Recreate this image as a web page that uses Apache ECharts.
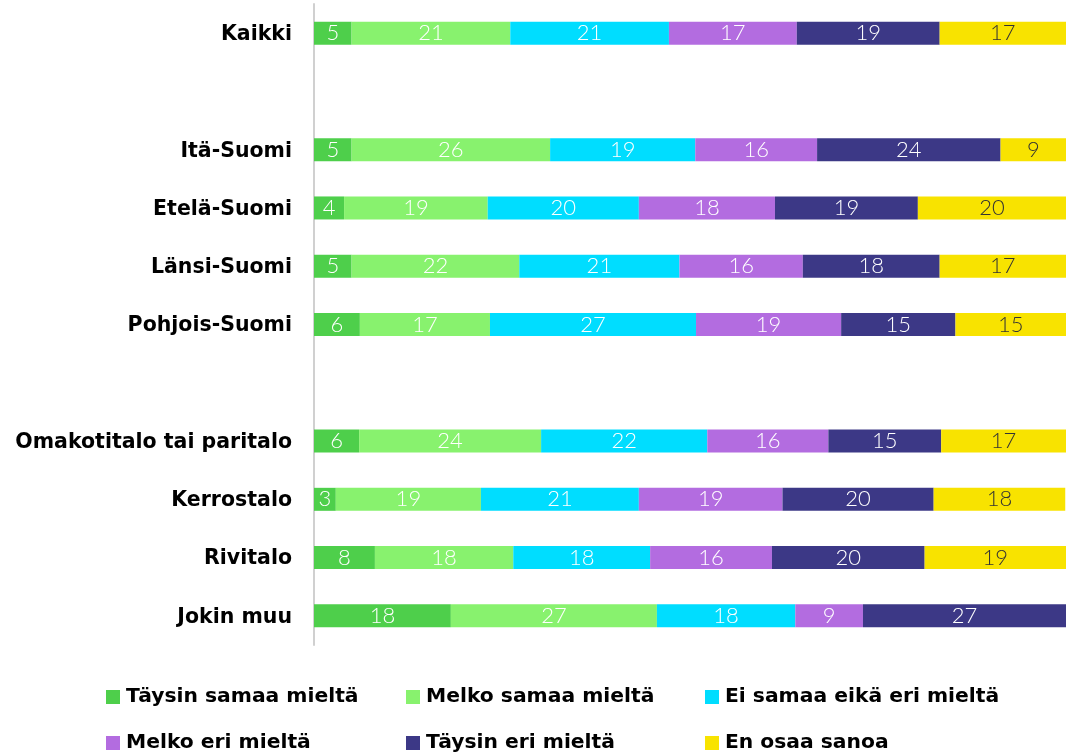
<!DOCTYPE html>
<html><head><meta charset="utf-8">
<script src="https://cdn.jsdelivr.net/npm/echarts@6/dist/echarts.min.js"></script>
<style>html,body{margin:0;padding:0;background:#fff}#c{width:1066px;height:754px}</style>
</head><body><div id="c"></div>
<script>
const categories = ['Kaikki', '', 'Itä-Suomi', 'Etelä-Suomi', 'Länsi-Suomi', 'Pohjois-Suomi', ' ', 'Omakotitalo tai paritalo', 'Kerrostalo', 'Rivitalo', 'Jokin muu'];
const seriesNames = ['Täysin samaa mieltä', 'Melko samaa mieltä', 'Ei samaa eikä eri mieltä', 'Melko eri mieltä', 'Täysin eri mieltä', 'En osaa sanoa'];
const taysinSamaa = [5.0, null, 5.0, 4.0, 5.0, 6.1, null, 6.0, 2.9, 8.1, 18.2];
const melkoSamaa  = [21.1, null, 26.4, 19.1, 22.3, 17.3, null, 24.2, 19.3, 18.4, 27.4];
const eiSamaaEiEri= [21.1, null, 19.3, 20.1, 21.3, 27.4, null, 22.1, 21.0, 18.2, 18.4];
const melkoEri    = [17.0, null, 16.2, 18.1, 16.4, 19.3, null, 16.1, 19.1, 16.2, 9.0];
const taysinEri   = [19.0, null, 24.4, 19.0, 18.2, 15.2, null, 15.0, 20.1, 20.3, 27.0];
const enOsaa      = [16.8, null, 8.7, 19.7, 16.8, 14.7, null, 16.6, 17.5, 18.8, 0];
const values = [taysinSamaa, melkoSamaa, eiSamaaEiEri, melkoEri, taysinEri, enOsaa];
const colors = ['#4ECF4B', '#88F26E', '#00DDFF', '#B36CE0', '#3C3886', '#F8E300'];
const labelColors = ['#fff', '#fff', '#fff', '#fff', '#fff', '#333'];

const chart = echarts.init(document.getElementById('c'), null, {renderer: 'canvas'});
const series = seriesNames.map((n, i) => ({
  name: n, type: 'bar', stack: 'all', barWidth: 23,
  data: values[i],
  itemStyle: {color: colors[i]},
  label: {
    show: true, position: 'inside', color: labelColors[i],
    fontFamily: 'Lato', fontWeight: 300, fontSize: 22,
    formatter: p => (p.value == null || p.value < 1) ? '' : String(Math.round(p.value))
  }
}));
const legendPos = [[106, 687], [406, 687], [705, 687], [106, 733], [406, 733], [705, 733]];
const legends = seriesNames.map((n, i) => ({
  data: [n], icon: 'rect', itemWidth: 14, itemHeight: 14, itemGap: 0,
  left: legendPos[i][0], top: legendPos[i][1], padding: 0,
  textStyle: {fontFamily: 'DejaVu Sans', fontWeight: 'bold', fontSize: 20.3, color: '#000', padding: [0, 0, 0, 1]},
  selectedMode: false
}));
chart.setOption({
  animation: false,
  grid: {left: 314, right: 0, top: 4, height: 641, containLabel: false},
  xAxis: {type: 'value', min: 0, max: 100, show: false},
  yAxis: {
    type: 'category', inverse: true, data: categories,
    axisLine: {show: true, lineStyle: {color: '#d0d0d0', width: 2}},
    axisTick: {show: false},
    axisLabel: {
      margin: 22,
      formatter: v => '{a|' + v + '}',
      rich: {a: {fontFamily: 'DejaVu Sans', fontWeight: 'bold', fontSize: 20.5, color: '#000', padding: [3, 0, 0, 0]}}
    }
  },
  legend: legends,
  series: series
});
</script></body></html>
